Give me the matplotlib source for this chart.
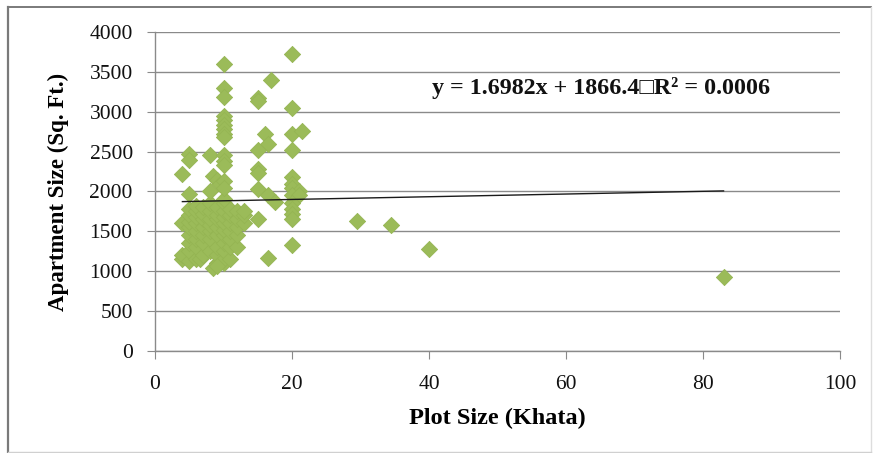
import matplotlib
matplotlib.use("Agg")
import matplotlib.pyplot as plt
from matplotlib.lines import Line2D

# ---- data ----
plot_size = [
    # dense cluster 4-13 khata
    4, 4, 4,
    5, 5, 5, 5, 5, 5, 5, 5,
    6, 6, 6, 6, 6, 6, 6, 6, 6.5,
    7, 7, 7, 7, 7, 7, 7,
    8, 8, 8, 8, 8, 8, 8,
    9, 9, 9, 9, 9, 9, 9, 9,
    10, 10, 10, 10, 10, 10, 10, 10, 10, 10,
    11, 11, 11, 11, 11, 11, 11,
    12, 12, 12, 12, 12,
    13, 13, 13,
    8.5, 9,
    # upper points of the small plots
    4, 5, 5, 5, 8, 8, 8.5, 9, 9.5, 10, 10, 10, 10, 10,
    10, 10, 10, 10, 10, 10, 10, 10, 10, 10,
    # 15-21 khata
    15, 15, 16, 16.5, 15, 15, 15, 15, 16.5, 17.5, 15, 16.5, 17,
    20, 20, 20, 21.5, 20, 20, 20, 20, 21, 20, 21,
    20, 20, 20, 20, 20,
    # outliers
    29.5, 34.5, 40, 83,
]
apartment_size = [
    1150, 1200, 1600,
    1130, 1250, 1350, 1450, 1550, 1620, 1700, 1780,
    1150, 1300, 1400, 1500, 1600, 1680, 1750, 1820, 1150,
    1200, 1350, 1450, 1550, 1650, 1720, 1800,
    1250, 1400, 1500, 1580, 1650, 1750, 1850,
    1100, 1200, 1300, 1450, 1550, 1650, 1700, 1800,
    1100, 1150, 1250, 1350, 1450, 1520, 1600, 1680, 1750, 1850,
    1150, 1300, 1400, 1500, 1600, 1700, 1780,
    1300, 1450, 1550, 1650, 1750,
    1600, 1700, 1760,
    1040, 1060,
    2220, 2470, 2400, 1970, 2460, 2000, 2200, 2150, 2100, 2460, 2380, 2330, 2130, 1900,
    3600, 3300, 3180, 2950, 2900, 2840, 2780, 2720, 2680, 2040,
    3170, 3130, 2720, 2600, 2520, 2280, 2230, 2030, 1950, 1870, 1650, 1160, 3400,
    3730, 3050, 2720, 2760, 2520, 2180, 2100, 2050, 2000, 1960, 1950,
    1850, 1780, 1720, 1650, 1330,
    1630, 1580, 1280, 930,
]

slope = 1.6982
intercept = 1866.4
r_squared = 0.0006
trend_x = [min(plot_size), max(plot_size)]
trend_y = [slope * v + intercept for v in trend_x]

x_ticks = [0, 20, 40, 60, 80, 100]
y_ticks = [0, 500, 1000, 1500, 2000, 2500, 3000, 3500, 4000]

# ---- figure ----
serif = ["Liberation Serif", "DejaVu Serif", "DejaVu Sans"]
plt.rcParams["font.family"] = serif

W, H = 875, 453
fig = plt.figure(figsize=(W / 100, H / 100), dpi=100)
fig.patch.set_facecolor("white")

# outer frame: darker left/top, faint right/bottom
def fline(x0, y0, x1, y1, c, lw):
    fig.add_artist(Line2D([x0 / W, x1 / W], [1 - y0 / H, 1 - y1 / H],
                          transform=fig.transFigure, color=c, linewidth=lw))

fline(8, 7, 8, 452, "#7a7a7a", 1.6)
fline(8, 7, 871, 7, "#7a7a7a", 1.4)
fline(871, 7, 871, 452, "#dddddd", 1.0)
fline(8, 451.5, 871, 451.5, "#d0d0d0", 1.0)

ax = fig.add_axes([155 / W, 1 - 351 / H, (840 - 155) / W, (351 - 32) / H])
ax.set_xlim(0, 100)
ax.set_ylim(0, 4000)
ax.set_xticks(x_ticks)
ax.set_yticks(y_ticks)
ax.yaxis.grid(True, color="#8a8a8a", linewidth=1.0)
ax.set_axisbelow(True)
for s in ["top", "right"]:
    ax.spines[s].set_visible(False)
for s in ["left", "bottom"]:
    ax.spines[s].set_color("#8a8a8a")
    ax.spines[s].set_linewidth(1.0)
ax.tick_params(axis="both", direction="out", length=6, color="#8a8a8a",
               labelcolor="#111111")
ax.tick_params(axis="y", labelsize=15.5, pad=10)
ax.tick_params(axis="x", labelsize=15.5, pad=11)

ax.scatter(plot_size, apartment_size, marker="D", s=68, color="#9BBB59",
           edgecolors="#95b553", linewidths=0.6, zorder=3)
ax.plot(trend_x, trend_y, color="#1a1a1a", linewidth=1.0, zorder=4)

ax.text(0.405, 0.825,
        f"y = {slope}x + {intercept}\u25a1R\u00b2 = {r_squared:.4f}",
        transform=ax.transAxes, fontsize=17.3, fontweight="bold",
        family=serif, color="#111111", va="center", ha="left")

ax.set_xlabel("Plot Size (Khata)", fontsize=17.5, fontweight="bold")
ax.set_ylabel("Apartment Size (Sq. Ft.)", fontsize=16.5, fontweight="bold")
ax.xaxis.set_label_coords(0.5, (351 - 418) / 319)
ax.xaxis.label.set_va("center")
ax.yaxis.set_label_coords((58 - 155) / 685, 0.5)
ax.yaxis.label.set_va("center")

fig.savefig("out.png", dpi=100, facecolor="white")
